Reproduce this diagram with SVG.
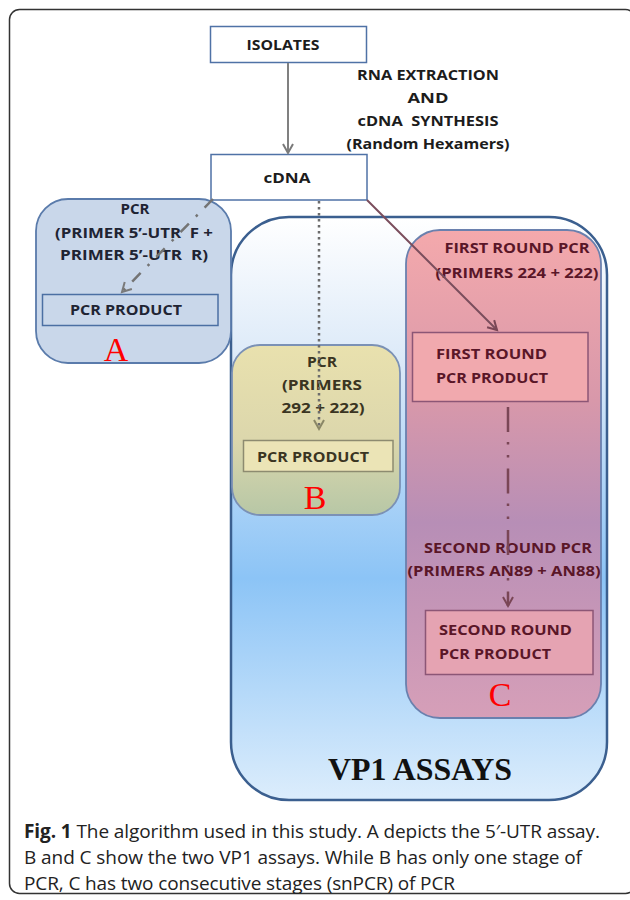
<svg xmlns="http://www.w3.org/2000/svg" width="630" height="900" viewBox="0 0 630 900">
<style>
.lbl{font-family:"Open Sans","Liberation Sans",sans-serif;font-weight:bold;font-size:15px;fill:#1c1c1c}
.la{fill:#1f2433}
.lb{fill:#3a3522}
.lc{fill:#5a1628}
.mid{text-anchor:middle}
.big{font-family:"Liberation Serif","Times New Roman",serif;font-size:34px;fill:#ff0000;text-anchor:middle}
.cap{font-family:"Open Sans","Noto Sans","Liberation Sans",sans-serif;font-size:19px;fill:#222}
.plain{fill:#fff;stroke:#4f72a6;stroke-width:1.5}
</style>
<defs>
<linearGradient id="gVP" x1="0" y1="0" x2="0" y2="1">
<stop offset="0" stop-color="#ffffff"/>
<stop offset="0.25" stop-color="#dbe9f8"/>
<stop offset="0.62" stop-color="#8cc4f6"/>
<stop offset="1" stop-color="#dcedfc"/>
</linearGradient>
<linearGradient id="gB" x1="0" y1="0" x2="0" y2="1">
<stop offset="0" stop-color="#e9e1ae"/>
<stop offset="0.55" stop-color="#dcd7ac"/>
<stop offset="1" stop-color="#b7c7a6"/>
</linearGradient>
<linearGradient id="gC" x1="0" y1="0" x2="0" y2="1">
<stop offset="0" stop-color="#f4a9ac"/>
<stop offset="0.35" stop-color="#d898aa"/>
<stop offset="0.6" stop-color="#b78eb6"/>
<stop offset="1" stop-color="#d69fb8"/>
</linearGradient>
<marker id="ahGray" markerWidth="14" markerHeight="14" refX="10" refY="6" orient="auto" markerUnits="userSpaceOnUse">
<path d="M1,1 L10,6 L1,11" fill="none" stroke="#7a7a7a" stroke-width="2"/>
</marker>
<marker id="ahOlive" markerWidth="14" markerHeight="14" refX="10" refY="6" orient="auto" markerUnits="userSpaceOnUse">
<path d="M1,1 L10,6 L1,11" fill="none" stroke="#8a8766" stroke-width="2"/>
</marker>
<marker id="ahRed" markerWidth="14" markerHeight="14" refX="10" refY="6" orient="auto" markerUnits="userSpaceOnUse">
<path d="M1,1 L10,6 L1,11" fill="none" stroke="#7a4656" stroke-width="2"/>
</marker>
</defs>

<rect id="frame" x="9.5" y="9.5" width="626" height="884" rx="10" fill="#fff" stroke="#333" stroke-width="1.5"/>

<g id="isolates">
<rect class="plain" x="210.5" y="26.5" width="156" height="36"/>
<text class="lbl mid" x="283" y="50" textLength="73" lengthAdjust="spacingAndGlyphs">ISOLATES</text>
</g>

<g id="extraction-label">
<text class="lbl mid" x="428" y="80" textLength="142" lengthAdjust="spacingAndGlyphs">RNA EXTRACTION</text>
<text class="lbl mid" x="428" y="103" textLength="41" lengthAdjust="spacingAndGlyphs">AND</text>
<text class="lbl mid" x="428" y="126" textLength="141" lengthAdjust="spacingAndGlyphs" xml:space="preserve">cDNA  SYNTHESIS</text>
<text class="lbl mid" x="428" y="149" textLength="163" lengthAdjust="spacingAndGlyphs">(Random Hexamers)</text>
</g>

<g id="cdna">
<rect class="plain" x="211" y="154.5" width="156" height="45.5"/>
<text class="lbl mid" x="287" y="183" textLength="47" lengthAdjust="spacingAndGlyphs">cDNA</text>
</g>

<g id="vp1-assays">
<rect x="231" y="217" width="376" height="583" rx="58" fill="url(#gVP)" stroke="#3b5f8f" stroke-width="2.5"/>
<text x="420" y="780" font-family="Liberation Serif,Times New Roman,serif" font-weight="bold" font-size="31" fill="#111" text-anchor="middle" textLength="184" lengthAdjust="spacingAndGlyphs">VP1 ASSAYS</text>
</g>

<g id="assay-a">
<rect x="36" y="199" width="195" height="164" rx="32" fill="#c9d7ea" stroke="#5a7bab" stroke-width="1.8"/>
<text class="lbl la mid" x="135" y="214" textLength="29" lengthAdjust="spacingAndGlyphs">PCR</text>
<text class="lbl la mid" x="134" y="238" textLength="158" lengthAdjust="spacingAndGlyphs" xml:space="preserve">(PRIMER 5’-UTR  F +</text>
<text class="lbl la mid" x="134" y="260" textLength="148" lengthAdjust="spacingAndGlyphs" xml:space="preserve">PRIMER 5’-UTR  R)</text>
<rect x="42.5" y="294.5" width="175.5" height="31" fill="#c9d7ea" stroke="#4b6fa3" stroke-width="1.5"/>
<text class="lbl la mid" x="126" y="315" textLength="112" lengthAdjust="spacingAndGlyphs">PCR PRODUCT</text>
<text class="big" x="116" y="361">A</text>
</g>

<g id="assay-b">
<rect x="232" y="345" width="168" height="170" rx="28" fill="url(#gB)" stroke="#7b91b5" stroke-width="1.8"/>
<text class="lbl lb mid" x="322" y="367" textLength="30" lengthAdjust="spacingAndGlyphs">PCR</text>
<text class="lbl lb mid" x="322" y="390" textLength="80" lengthAdjust="spacingAndGlyphs">(PRIMERS</text>
<text class="lbl lb mid" x="323" y="413" textLength="83" lengthAdjust="spacingAndGlyphs">292 + 222)</text>
<rect x="243.5" y="440.5" width="149.5" height="31" fill="#ebe4b6" stroke="#8d8b70" stroke-width="1.5"/>
<text class="lbl lb mid" x="313" y="462" textLength="112" lengthAdjust="spacingAndGlyphs">PCR PRODUCT</text>
<text class="big" x="315" y="509">B</text>
</g>

<g id="assay-c">
<rect x="406" y="230" width="195" height="488" rx="34" fill="url(#gC)" stroke="#6a80ae" stroke-width="1.8"/>
<text class="lbl lc mid" x="517" y="253" textLength="145" lengthAdjust="spacingAndGlyphs">FIRST ROUND PCR</text>
<text class="lbl lc mid" x="517" y="278" textLength="163" lengthAdjust="spacingAndGlyphs">(PRIMERS 224 + 222)</text>
<rect x="412.5" y="332.5" width="175.5" height="69" fill="#f1a9ae" stroke="#8c5676" stroke-width="1.5"/>
<text class="lbl lc" x="436" y="359" textLength="111" lengthAdjust="spacingAndGlyphs">FIRST ROUND</text>
<text class="lbl lc" x="436" y="383" textLength="112" lengthAdjust="spacingAndGlyphs">PCR PRODUCT</text>
<text class="lbl lc mid" x="508" y="553" textLength="168" lengthAdjust="spacingAndGlyphs">SECOND ROUND PCR</text>
<text class="lbl lc mid" x="504" y="576" textLength="193" lengthAdjust="spacingAndGlyphs">(PRIMERS AN89 + AN88)</text>
<rect x="425.5" y="610.5" width="167.5" height="64" fill="#e5a3b2" stroke="#8c5676" stroke-width="1.5"/>
<text class="lbl lc" x="439" y="635" textLength="133" lengthAdjust="spacingAndGlyphs">SECOND ROUND</text>
<text class="lbl lc" x="439" y="659" textLength="112" lengthAdjust="spacingAndGlyphs">PCR PRODUCT</text>
<text class="big" x="500" y="706">C</text>
</g>

<g id="connectors" fill="none">
<line x1="288" y1="63" x2="288" y2="153" stroke="#808080" stroke-width="2" marker-end="url(#ahGray)"/>
<line x1="213" y1="199" x2="122" y2="292" stroke="#747474" stroke-width="2.5" stroke-dasharray="12 10 2.5 10" marker-end="url(#ahGray)"/>
<line x1="319" y1="201" x2="319" y2="429" stroke="#6c6c6c" stroke-width="2.5" stroke-dasharray="2.5 3.5" marker-end="url(#ahOlive)"/>
<line x1="367" y1="200" x2="497" y2="330" stroke="#7a4d5c" stroke-width="2" marker-end="url(#ahRed)"/>
<line x1="508" y1="407" x2="508" y2="606" stroke="#7a4656" stroke-width="2.5" stroke-dasharray="25 10 2.5 10.5 2.5 11" marker-end="url(#ahRed)"/>
</g>

<g id="caption">
<text class="cap" x="24" y="838" textLength="576" lengthAdjust="spacing"><tspan font-weight="bold">Fig. 1</tspan> The algorithm used in this study. A depicts the 5′-UTR assay.</text>
<text class="cap" x="24" y="864" textLength="558" lengthAdjust="spacing">B and C show the two VP1 assays. While B has only one stage of</text>
<text class="cap" x="24" y="890" textLength="431" lengthAdjust="spacing">PCR, C has two consecutive stages (snPCR) of PCR</text>
</g>
</svg>
